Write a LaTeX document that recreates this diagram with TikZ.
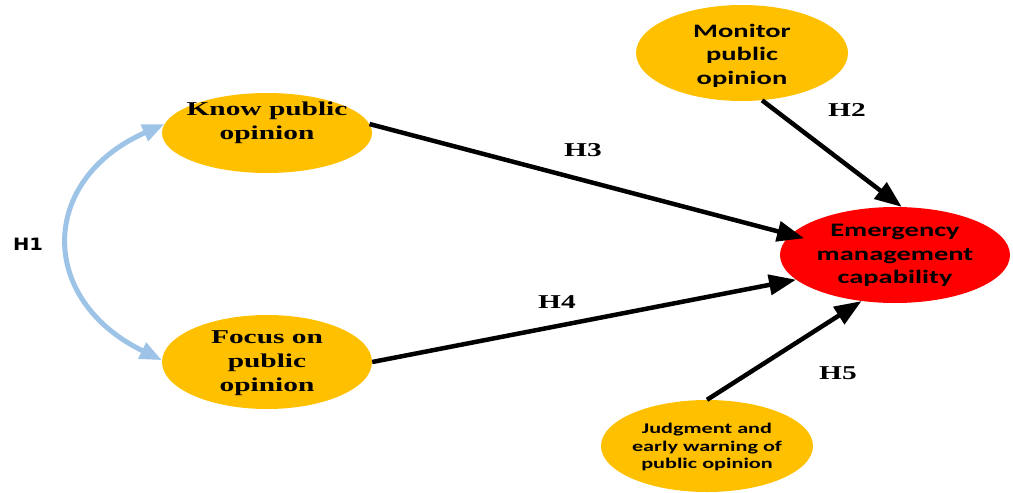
\documentclass[tikz,border=0pt]{standalone}
\usepackage{fontspec}
\newfontfamily\tbf[FakeStretch=1.5]{Liberation Serif}
\newfontfamily\cbf[FakeStretch=1.5]{Carlito}
\newfontfamily\dvs[FakeStretch=1.15]{DejaVu Sans}
\usetikzlibrary{shapes.geometric,arrows.meta}
\definecolor{gold}{HTML}{FFC000}
\definecolor{hblue}{HTML}{9DC3E6}
\definecolor{ered}{HTML}{FF0000}
\begin{document}
\begin{tikzpicture}[x=1pt,y=-1pt,
  ell/.style={ellipse,draw=none,fill=gold,inner sep=0pt},
  sertxt/.style={align=center,inner sep=0pt,font=\tbf\bfseries\fontsize{19.6}{24}\selectfont},
  santxt/.style={align=center,inner sep=0pt,font=\cbf\bfseries\fontsize{19}{23.5}\selectfont},
  smalltxt/.style={align=center,inner sep=0pt,font=\cbf\bfseries\fontsize{14.8}{17.5}\selectfont},
  hlab/.style={inner sep=0pt,font=\tbf\bfseries\fontsize{19.6}{24}\selectfont},
  blk/.style={line width=4.5pt,draw=black,-{Triangle[length=27pt,width=20pt]}},
  blu/.style={line width=5pt,draw=hblue,{Triangle[length=22pt,width=17pt]}-{Triangle[length=22pt,width=17pt]}}
]
\useasboundingbox (0,0) rectangle (1013,493);
% ellipses
\node[ell,minimum width=210pt,minimum height=80pt] (know) at (267,133) {};
\node[ell,minimum width=210pt,minimum height=94pt] (focus) at (267,362) {};
\node[ell,minimum width=212pt,minimum height=96pt] (monitor) at (742,53) {};
\node[ell,fill=ered,minimum width=230pt,minimum height=96pt] (emerg) at (895,255) {};
\node[ell,minimum width=212pt,minimum height=92pt] (judg) at (707,446) {};
% texts
\node[sertxt] (knowt) at (267,123) {Know public\\opinion};
\node[sertxt] (focust) at (267,363) {Focus on\\public\\opinion};
\node[santxt] (monitort) at (742,55.5) {Monitor\\public\\opinion};
\node[santxt] (emergt) at (895,255.5) {Emergency\\management\\capability};
\node[smalltxt] (judgt) at (707,447) {Judgment and\\early warning of\\public opinion};
% connectors
\draw[blu] (know.175) .. controls (38,180) and (38,300) .. (focus.179);
\draw[blk,shorten >=-14pt] (know.5) -- (emerg.169);
\draw[blk] (focus.east) -- (emerg.194);
\draw[blk] (monitor.293) -- (emerg.82);
\draw[blk] (judg.north) -- (emerg.234);
% labels
\node[inner sep=0pt,font=\dvs\bfseries\fontsize{17}{20}\selectfont] (h1) at (28,244.5) {H1};
\node[hlab] (h2) at (847,110) {H2};
\node[hlab] (h3) at (583,150) {H3};
\node[hlab] (h4) at (557,302) {H4};
\node[hlab] (h5) at (838,373) {H5};
\end{tikzpicture}
\end{document}
